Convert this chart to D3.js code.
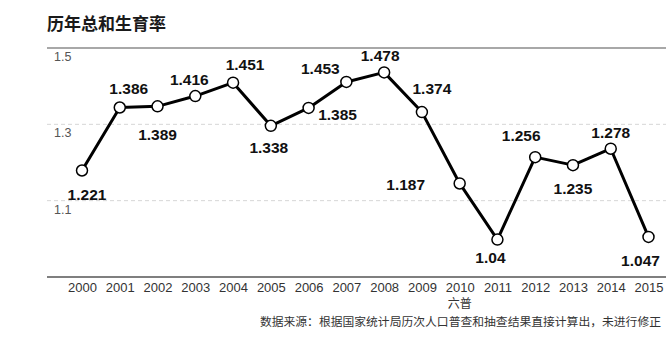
<!DOCTYPE html>
<html>
<head>
<meta charset="utf-8">
<script src="https://cdn.jsdelivr.net/npm/d3@7/dist/d3.min.js"></script>
<style>
  html, body { margin: 0; padding: 0; background: #fff; }
  svg { display: block; font-family: "Liberation Sans", Arial, "Noto Sans CJK SC", sans-serif; }
</style>
</head>
<body>
<svg id="chart" width="671" height="347"></svg>
<script>
// Total fertility rate by year
const years = ["2000","2001","2002","2003","2004","2005","2006","2007",
               "2008","2009","2010","2011","2012","2013","2014","2015"];
const rates = [1.221, 1.386, 1.389, 1.416, 1.451, 1.338, 1.385, 1.453,
               1.478, 1.374, 1.187, 1.04, 1.256, 1.235, 1.278, 1.047];
const rateLabels = ["1.221","1.386","1.389","1.416","1.451","1.338","1.385","1.453",
                    "1.478","1.374","1.187","1.04","1.256","1.235","1.278","1.047"];
const yTicks = [1.1, 1.3, 1.5];
const yTickLabels = ["1.1", "1.3", "1.5"];
const titleText = "历年总和生育率";
const censusNote = { year: "2010", text: "六普" };
const sourceText = "数据来源：根据国家统计局历次人口普查和抽查结果直接计算出，未进行修正";

// Label placement relative to each point [dx, dy]
const labelOffsets = [
  [5, 24], [9, -19], [0, 28], [-6, -17], [12, -18], [-2, 22], [29, 7], [-26, -14],
  [-4, -17], [10, -24], [-54, 1], [-7, 18], [-14, -22], [0, 23], [0, -16], [-8, 24]
];

const svg = d3.select("#chart");

const x = d3.scalePoint().domain(years).range([82, 648.5]);
const y = d3.scaleLinear().domain([0.9, 1.5]).range([293, 64]);
// Frame (gridlines / baseline) sits slightly above the plotted marks
const yFrame = y.copy().range(y.range().map(r => r - 16));

// Title
svg.append("text")
  .attr("x", 47).attr("y", 30)
  .attr("font-size", 17).attr("font-weight", "bold")
  .attr("fill", "#1a1a1a")
  .attr("font-family", "'Noto Sans CJK SC', sans-serif")
  .text(titleText);

// Gridlines
const grid = svg.append("g");
grid.selectAll("line")
  .data(yTicks)
  .join("line")
  .attr("x1", 47).attr("x2", 666)
  .attr("y1", d => yFrame(d)).attr("y2", d => yFrame(d))
  .attr("stroke", (d, i) => i === yTicks.length - 1 ? "#a8a8a8" : "#d6d6d6")
  .attr("stroke-width", (d, i) => i === yTicks.length - 1 ? 2 : 1)
  .attr("stroke-dasharray", (d, i) => i === yTicks.length - 1 ? null : "4,3");

grid.selectAll("text")
  .data(yTicks)
  .join("text")
  .attr("x", 54)
  .attr("y", d => yFrame(d) + 13)
  .attr("font-size", 12.5)
  .attr("fill", "#555")
  .text((d, i) => yTickLabels[i]);

// Baseline and year labels
const xAxis = d3.axisBottom(x).tickSize(0).tickPadding(6);
const xg = svg.append("g")
  .attr("transform", `translate(0,${yFrame(0.9)})`)
  .call(xAxis);
xg.select(".domain").remove();
xg.append("line")
  .attr("x1", 47).attr("x2", 666)
  .attr("stroke", "#555").attr("stroke-width", 1.5);
xg.selectAll(".tick text")
  .attr("font-size", 13)
  .attr("fill", "#333")
  .attr("font-family", "'Liberation Sans', Arial, sans-serif");

// Census marker under its year
svg.append("text")
  .attr("x", x(censusNote.year))
  .attr("y", 308)
  .attr("text-anchor", "middle")
  .attr("font-size", 12)
  .attr("fill", "#333")
  .attr("font-family", "'Noto Sans CJK SC', sans-serif")
  .text(censusNote.text);

// Source note
svg.append("text")
  .attr("x", 661)
  .attr("y", 326)
  .attr("text-anchor", "end")
  .attr("font-size", 11.8)
  .attr("fill", "#333")
  .attr("font-family", "'Noto Sans CJK SC', sans-serif")
  .text(sourceText);

// Line
const pts = years.map((yr, i) => ({ year: yr, value: rates[i], label: rateLabels[i], off: labelOffsets[i] }));
svg.append("path")
  .datum(pts)
  .attr("fill", "none")
  .attr("stroke", "#000")
  .attr("stroke-width", 3)
  .attr("stroke-linejoin", "round")
  .attr("d", d3.line().x(d => x(d.year)).y(d => y(d.value)));

// Markers
svg.append("g")
  .selectAll("circle")
  .data(pts)
  .join("circle")
  .attr("cx", d => x(d.year))
  .attr("cy", d => y(d.value))
  .attr("r", 5.5)
  .attr("fill", "#fff")
  .attr("stroke", "#000")
  .attr("stroke-width", 1.5);

// Value labels
svg.append("g")
  .selectAll("text")
  .data(pts)
  .join("text")
  .attr("x", d => x(d.year) + d.off[0])
  .attr("y", d => y(d.value) + d.off[1])
  .attr("dy", "0.36em")
  .attr("text-anchor", "middle")
  .attr("font-size", 15.5)
  .attr("font-weight", "bold")
  .attr("fill", "#111")
  .text(d => d.label);
</script>
</body>
</html>
